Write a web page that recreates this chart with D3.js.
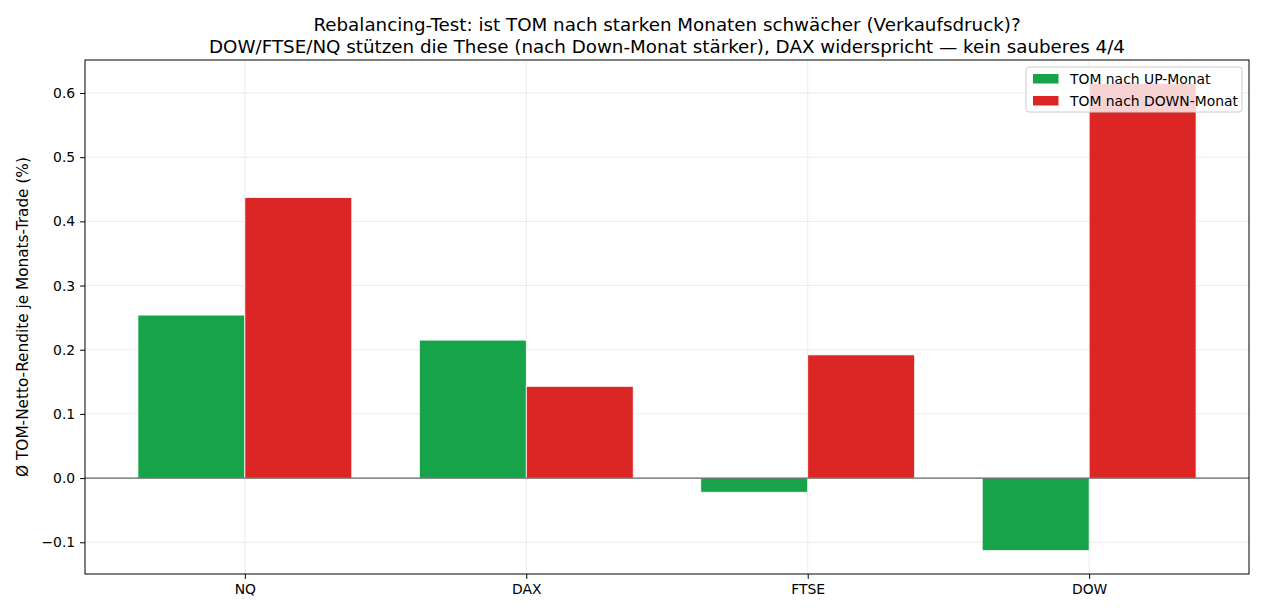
<!DOCTYPE html>
<html><head><meta charset="utf-8">
<script src="https://cdn.jsdelivr.net/npm/d3@7"></script>
<style>body{margin:0;background:#fff}svg{display:block;font-family:"DejaVu Sans",sans-serif}</style>
</head><body><svg id="c" width="1265" height="616"></svg>
<script>
const categories = ["NQ","DAX","FTSE","DOW"];
const seriesNames = ["TOM nach UP-Monat","TOM nach DOWN-Monat"];
const upValues = [0.254, 0.215, -0.022, -0.113];
const downValues = [0.437, 0.143, 0.192, 0.615];
const yTicks = [-0.1,0,0.1,0.2,0.3,0.4,0.5,0.6];
const colors = ["#16a34a","#dc2626"];
const titleLines = ["Rebalancing-Test: ist TOM nach starken Monaten schwächer (Verkaufsdruck)?",
 "DOW/FTSE/NQ stützen die These (nach Down-Monat stärker), DAX widerspricht — kein sauberes 4/4"];
const yLabel = "Ø TOM-Netto-Rendite je Monats-Trade (%)";

const svg = d3.select("#c");
const L=85,R=1249,T=60,B=574;
const barW=0.38;
const all = upValues.concat(downValues);
const mn=d3.min(all), mx=d3.max(all), sp=mx-mn;
const y = d3.scaleLinear().domain([mn-0.05*sp, mx+0.05*sp]).range([B,T]);
const xs = d3.scaleLinear().domain([-barW-0.05*(3+2*barW), 3+barW+0.05*(3+2*barW)]).range([L,R]);

const g = svg.append("g");
// grid
g.selectAll(".gy").data(yTicks).join("line").attr("x1",L).attr("x2",R)
 .attr("y1",d=>y(d)).attr("y2",d=>y(d)).attr("stroke","#e6e6e6").attr("stroke-width",0.8);
g.selectAll(".gx").data(categories).join("line").attr("x1",(d,i)=>xs(i)).attr("x2",(d,i)=>xs(i))
 .attr("y1",T).attr("y2",B).attr("stroke","#e6e6e6").attr("stroke-width",0.8);

const series=[upValues,downValues];
series.forEach((vals,s)=>{
  g.selectAll(".b"+s).data(vals).join("rect")
   .attr("x",(d,i)=>xs(i+(s===0?-barW:0)))
   .attr("width",xs(barW)-xs(0))
   .attr("y",d=>y(Math.max(0,d)))
   .attr("height",d=>Math.abs(y(d)-y(0)))
   .attr("fill",colors[s]).attr("stroke","#fff").attr("stroke-width",0.8);
});
// zero line
g.append("line").attr("x1",L).attr("x2",R).attr("y1",y(0)).attr("y2",y(0)).attr("stroke","#444").attr("stroke-width",1);
// frame
g.append("rect").attr("x",L).attr("y",T).attr("width",R-L).attr("height",B-T).attr("fill","none").attr("stroke","#000").attr("stroke-width",1);

// axes
const ya = d3.axisLeft(y).tickValues(yTicks).tickFormat(d=>d<0?"\u2212"+Math.abs(d).toFixed(1):d.toFixed(1)).tickSize(4.9).tickPadding(4.9);
const yg=svg.append("g").attr("transform",`translate(${L},0)`).call(ya);
yg.select(".domain").remove();
yg.selectAll("text").attr("font-size",13.9).attr("fill","#000").attr("font-family","DejaVu Sans");
const xa = d3.axisBottom(xs).tickValues([0,1,2,3]).tickFormat(i=>categories[i]).tickSize(4.9).tickPadding(4.9);
const xg=svg.append("g").attr("transform",`translate(0,${B})`).call(xa);
xg.select(".domain").remove();
xg.selectAll("text").attr("font-size",13.9).attr("fill","#000").attr("font-family","DejaVu Sans");

// title
svg.selectAll(".t").data(titleLines).join("text").attr("x",(L+R)/2).attr("y",(d,i)=>31+i*22.3)
 .attr("text-anchor","middle").attr("font-size",18.3).attr("fill","#000").text(d=>d);
// y label
svg.append("text").attr("transform",`translate(28,${(T+B)/2}) rotate(-90)`).attr("text-anchor","middle")
 .attr("font-size",15.3).attr("fill","#000").text(yLabel);

// legend
const lg=svg.append("g").attr("transform","translate(1026,67)");
lg.append("rect").attr("width",216).attr("height",45).attr("rx",3).attr("fill","#fff").attr("fill-opacity",0.8).attr("stroke","#ccc");
seriesNames.forEach((n,i)=>{
  lg.append("rect").attr("x",7).attr("y",7+i*22).attr("width",25.5).attr("height",9.5).attr("fill",colors[i]);
  lg.append("text").attr("x",44).attr("y",17.3+i*21.6).attr("font-size",13.9).attr("fill","#000").text(n);
});
</script></body></html>
